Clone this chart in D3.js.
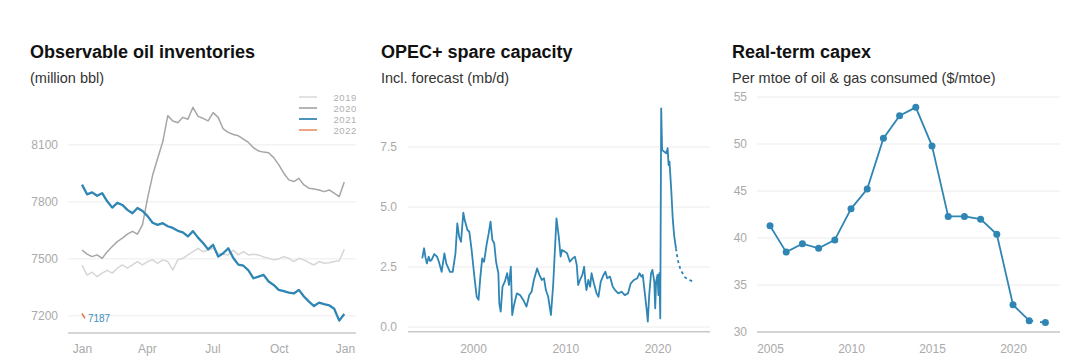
<!DOCTYPE html>
<html>
<head>
<meta charset="utf-8">
<script src="https://cdn.jsdelivr.net/npm/d3@7"></script>
<style>
  body { margin: 0; background: #fff; }
  svg { font-family: "Liberation Sans", Arial, sans-serif; }
  .title { font-size: 18px; font-weight: bold; fill: #111; }
  .subtitle { font-size: 14.5px; fill: #333; }
  .tick text { font-size: 12px; fill: #aaa; }
  .grid line { stroke: #ececec; }
  .baseline { stroke: #c8c8c8; stroke-width: 1.5; }
</style>
</head>
<body>
<svg class="chart"></svg>
<script>
var width = 1085;
var height = 363;

// panel 1: weekly inventories (million bbl), week 0 = first week of Jan
var inv2019 = [7468, 7415, 7430, 7407, 7425, 7440, 7425, 7451, 7468, 7451, 7468, 7486, 7468, 7486,
    7495, 7477, 7495, 7486, 7442, 7495, 7503, 7521, 7538, 7556, 7538, 7547, 7556, 7530, 7525, 7521,
    7547, 7521, 7538, 7521, 7525, 7521, 7510, 7503, 7495, 7500, 7512, 7503, 7486, 7503, 7495, 7480,
    7468, 7486, 7477, 7480, 7486, 7490, 7550];
var inv2020 = [7547, 7525, 7512, 7521, 7503, 7538, 7565, 7591, 7609, 7630, 7645, 7630, 7680, 7820,
    7940, 8030, 8115, 8254, 8226, 8217, 8245, 8235, 8298, 8250, 8240, 8226, 8270, 8245, 8184, 8166,
    8155, 8148, 8131, 8113, 8085, 8068, 8062, 8059, 8033, 7996, 7951, 7916, 7907, 7924, 7889, 7872,
    7868, 7863, 7854, 7863, 7846, 7828, 7905];
var inv2021 = [7891, 7840, 7850, 7832, 7846, 7803, 7770, 7795, 7784, 7758, 7740, 7768, 7752, 7725,
    7690, 7679, 7688, 7672, 7663, 7648, 7640, 7618, 7646, 7612, 7584, 7550, 7574, 7512, 7530, 7556,
    7505, 7470, 7464, 7440, 7398, 7407, 7416, 7381, 7363, 7337, 7330, 7322, 7318, 7337, 7302, 7275,
    7252, 7270, 7262, 7256, 7238, 7175, 7210];
var days2022 = [0, 4];
var inv2022 = [7213, 7187];
var invYears = ["2019", "2020", "2021", "2022"];
var invTicks = [7200, 7500, 7800, 8100];

// panel 2: OPEC+ spare capacity (mb/d)
var opecYears = [1994.5, 1994.7, 1994.85, 1995.0, 1995.2, 1995.35, 1995.5, 1995.8, 1996.1, 1996.3,
    1996.6, 1996.9, 1997.1, 1997.5, 1997.8, 1998.1, 1998.3, 1998.5, 1998.7, 1998.95, 1999.1, 1999.4,
    1999.6, 1999.85, 2000.15, 2000.4, 2000.6, 2000.8, 2001.0, 2001.2, 2001.5, 2001.7, 2001.9, 2002.1,
    2002.3, 2002.5, 2002.75, 2002.85, 2003.0, 2003.2, 2003.45, 2003.7, 2003.9, 2004.1, 2004.25,
    2004.45, 2004.75, 2005.1, 2005.45, 2005.8, 2006.1, 2006.35, 2006.6, 2006.95, 2007.2, 2007.45,
    2007.7, 2007.9, 2008.15, 2008.45, 2008.7, 2009.05, 2009.3, 2009.5, 2009.65, 2009.95, 2010.2,
    2010.5, 2010.8, 2011.05, 2011.25, 2011.4, 2011.6, 2011.85, 2012.05, 2012.2, 2012.3, 2012.5,
    2012.7, 2012.85, 2013.1, 2013.4, 2013.6, 2013.85, 2014.15, 2014.35, 2014.55, 2014.85, 2015.15,
    2015.4, 2015.75, 2016.1, 2016.45, 2016.8, 2017.1, 2017.45, 2017.8, 2018.05, 2018.25, 2018.4,
    2018.65, 2018.85, 2018.95, 2019.1, 2019.3, 2019.45, 2019.65, 2019.75, 2019.85, 2020.0, 2020.1,
    2020.2, 2020.3, 2020.4, 2020.5, 2020.7, 2020.95, 2021.1, 2021.2, 2021.3, 2021.5, 2021.65,
    2021.8, 2022.0];
var opecValues = [2.86, 3.28, 2.9, 2.65, 2.93, 2.75, 2.79, 3.04, 2.93, 2.72,
    2.30, 3.07, 2.65, 2.30, 2.30, 3.07, 4.32, 3.76, 3.55, 4.76, 4.46, 4.04,
    3.97, 3.21, 2.10, 1.26, 1.13, 2.10, 2.86, 2.72, 3.49, 3.90, 4.39, 3.63,
    3.49, 2.72, 2.24, 0.99, 0.64, 1.68, 1.89, 2.24, 1.75, 2.51, 0.50,
    0.92, 1.40, 1.33, 1.13, 0.85, 1.33, 1.47, 1.96, 2.44, 2.17, 1.96,
    2.03, 1.54, 1.26, 0.50, 1.82, 4.53, 3.76, 2.93, 3.21, 3.14, 3.07,
    2.72, 2.86, 2.93, 2.58, 1.75, 1.96, 2.17, 2.51, 1.82, 1.54, 1.96,
    1.68, 2.24, 1.82, 1.40, 1.26, 1.89, 2.17, 2.30, 2.03, 2.10, 1.68,
    1.54, 1.40, 1.47, 1.33, 1.40, 1.82, 1.96, 2.03, 2.24, 2.10, 2.17,
    1.33, 0.64, 0.22, 1.33, 2.24, 2.38, 1.89, 0.78, 1.89, 2.17, 1.33,
    2.24, 0.36, 9.11, 7.38, 7.31, 7.24, 7.45, 6.75, 6.89, 5.64, 4.53,
    3.83, 3.28];
var forecastYears = [2022.0, 2022.2, 2022.5, 2023.0, 2023.5, 2023.9];
var forecastValues = [3.28, 2.79, 2.38, 2.06, 1.95, 1.89];
var opecTicks = [0, 2.5, 5, 7.5];
var opecYearTicks = [2000, 2010, 2020];

// panel 3: real-term capex ($/mtoe)
var capexYears = [2005, 2006, 2007, 2008, 2009, 2010, 2011, 2012, 2013, 2014, 2015, 2016, 2017,
    2018, 2019, 2020, 2021, 2022];
var capexValues = [41.3, 38.5, 39.4, 38.9, 39.8, 43.1, 45.2, 50.6, 53.0, 53.9, 49.8, 42.3, 42.3,
    42.0, 40.4, 32.9, 31.2, 31.0];
var capexTicks = [30, 35, 40, 45, 50, 55];
var capexYearTicks = [2005, 2010, 2015, 2020];

var blue = "#2f86b4";

var chart = d3.select(".chart")
    .attr("width", width)
    .attr("height", height);

function heading(x, title, sub) {
    chart.append("text").attr("class", "title").attr("x", x).attr("y", 58).text(title);
    chart.append("text").attr("class", "subtitle").attr("x", x).attr("y", 83).text(sub);
}

// gridlines + y labels + bottom rule for one panel
function frame(y, ticks, x0, x1, labelX, fmt) {
    var g = chart.append("g").attr("class", "grid");
    g.selectAll("line")
        .data(ticks)
        .enter()
        .append("line")
        .attr("x1", x0)
        .attr("x2", x1)
        .attr("y1", function(d) { return y(d); })
        .attr("y2", function(d) { return y(d); });

    var ax = chart.append("g")
        .attr("transform", "translate(" + labelX + ",0)")
        .call(d3.axisLeft(y).tickValues(ticks).tickFormat(fmt).tickSize(0).tickPadding(0));
    ax.select(".domain").remove();

    chart.append("line")
        .attr("class", "baseline")
        .attr("x1", x0)
        .attr("x2", x1)
        .attr("y1", y.range()[0])
        .attr("y2", y.range()[0]);
}

function bottomAxis(x, ticks, fmt) {
    var ax = chart.append("g")
        .attr("transform", "translate(0,344)")
        .call(d3.axisBottom(x).tickValues(ticks).tickFormat(fmt).tickSize(0).tickPadding(0));
    ax.select(".domain").remove();
    ax.selectAll("text").attr("dy", "0.71em");
}

// ---------- panel 1 ----------
heading(30, "Observable oil inventories", "(million bbl)");

var x1 = d3.scaleTime()
    .domain([new Date(2021, 0, 1), new Date(2022, 0, 1)])
    .range([82, 345]);
var y1 = d3.scaleLinear()
    .domain([7110, 8300])
    .range([333, 106.9]);

frame(y1, invTicks, 68, 356, 58, d3.format("d"));
bottomAxis(x1, d3.timeMonth.every(3).range(new Date(2021, 0, 1), new Date(2022, 0, 2)), d3.timeFormat("%b"));

function weekDate(i) { return new Date(2021, 0, 1 + 7 * i); }

var invLine = d3.line()
    .x(function(d, i) { return x1(weekDate(i)); })
    .y(function(d) { return y1(d); });

var invSeries = [
    { data: inv2019, color: "#d6d6d6", w: 1.5 },
    { data: inv2020, color: "#a6a6a6", w: 1.5 },
    { data: inv2021, color: blue, w: 2.3 }
];

chart.selectAll("path.inv")
    .data(invSeries)
    .enter()
    .append("path")
    .attr("class", "inv")
    .attr("fill", "none")
    .attr("stroke", function(d) { return d.color; })
    .attr("stroke-width", function(d) { return d.w; })
    .attr("stroke-linejoin", "round")
    .attr("d", function(d) { return invLine(d.data); });

chart.append("path")
    .datum(inv2022)
    .attr("fill", "none")
    .attr("stroke", "#e07a48")
    .attr("stroke-width", 1.6)
    .attr("d", d3.line()
        .x(function(d, i) { return x1(new Date(2021, 0, 1 + days2022[i])); })
        .y(function(d) { return y1(d); }));

chart.append("text")
    .attr("x", x1(new Date(2021, 0, 1 + days2022[1])) + 3)
    .attr("y", y1(inv2022[1]) + 4)
    .attr("font-size", 10)
    .attr("fill", "#3f8fbb")
    .text(inv2022[1]);

// legend, rows packed tight
var legColors = ["#e2e2e2", "#b5b5b5", "#4a94be", "#f0a483"];
var leg = chart.selectAll("g.leg")
    .data(invYears)
    .enter()
    .append("g")
    .attr("class", "leg")
    .attr("transform", function(d, i) { return "translate(0," + (100.5 + i * 11) + ")"; });
leg.append("line")
    .attr("x1", 299).attr("x2", 317)
    .attr("y1", -3.5).attr("y2", -3.5)
    .attr("stroke", function(d, i) { return legColors[i]; })
    .attr("stroke-width", 2);
leg.append("text")
    .attr("x", 357)
    .attr("text-anchor", "end")
    .attr("font-size", 9.5)
    .attr("letter-spacing", 0.6)
    .attr("fill", "#b0b0b0")
    .text(function(d) { return d; });

// ---------- panel 2 ----------
heading(381, "OPEC+ spare capacity", "Incl. forecast (mb/d)");

var x2 = d3.scaleLinear().domain([2000, 2020]).range([473, 657.5]);
var y2 = d3.scaleLinear().domain([-0.2, 9.2]).range([331.8, 106.2]);

frame(y2, opecTicks, 408, 710, 397, d3.format(".1f"));
bottomAxis(x2, opecYearTicks, d3.format("d"));

var opecLine = d3.line()
    .x(function(d) { return x2(d[0]); })
    .y(function(d) { return y2(d[1]); });

chart.append("path")
    .datum(d3.zip(opecYears, opecValues))
    .attr("fill", "none")
    .attr("stroke", blue)
    .attr("stroke-width", 1.8)
    .attr("stroke-linejoin", "round")
    .attr("d", opecLine);

chart.append("path")
    .datum(d3.zip(forecastYears, forecastValues))
    .attr("fill", "none")
    .attr("stroke", blue)
    .attr("stroke-width", 1.8)
    .attr("stroke-dasharray", "3,3")
    .attr("d", opecLine);

// ---------- panel 3 ----------
heading(732, "Real-term capex", "Per mtoe of oil & gas consumed ($/mtoe)");

var x3 = d3.scaleLinear().domain([2005, 2020]).range([770, 1013]);
var y3 = d3.scaleLinear().domain([30, 55]).range([332, 97]);

frame(y3, capexTicks, 757, 1060, 747, d3.format("d"));
bottomAxis(x3, capexYearTicks, d3.format("d"));

var capex = d3.zip(capexYears, capexValues);
var capexLine = d3.line()
    .x(function(d) { return x3(d[0]); })
    .y(function(d) { return y3(d[1]); });

chart.append("path")
    .datum(capex.slice(0, capex.length - 1))
    .attr("fill", "none")
    .attr("stroke", blue)
    .attr("stroke-width", 1.8)
    .attr("d", capexLine);

chart.append("path")
    .datum(capex.slice(capex.length - 2))
    .attr("fill", "none")
    .attr("stroke", blue)
    .attr("stroke-width", 1.8)
    .attr("stroke-dasharray", "4,7")
    .attr("d", capexLine);

chart.selectAll("circle.capex")
    .data(capex)
    .enter()
    .append("circle")
    .attr("class", "capex")
    .attr("cx", function(d) { return x3(d[0]); })
    .attr("cy", function(d) { return y3(d[1]); })
    .attr("r", 3.5)
    .attr("fill", blue);
</script>
</body>
</html>
